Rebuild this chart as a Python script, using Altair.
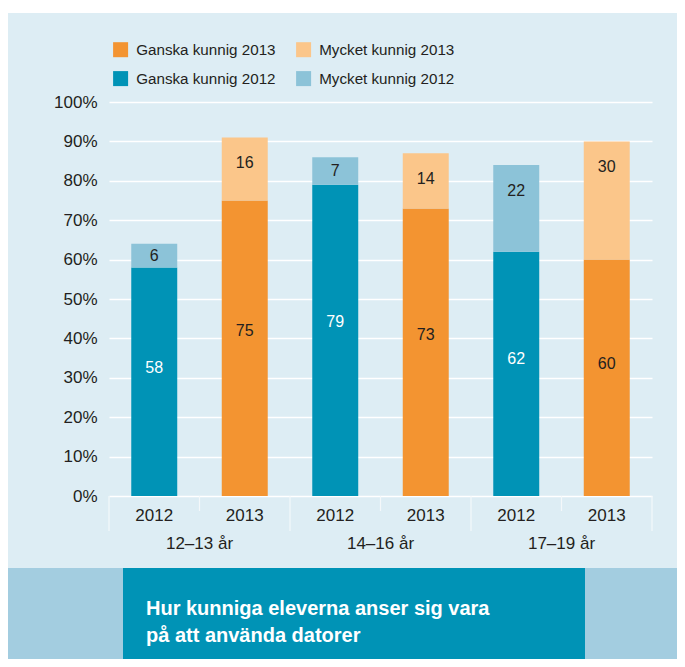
import altair as alt
import pandas as pd

# ---- data ----
groups = ["12–13 år", "14–16 år", "17–19 år"]
years = ["2012", "2013"]
ganska = [58, 75, 79, 73, 62, 60]   # order: group x year
mycket = [6, 16, 7, 14, 22, 30]
y_ticks = [0, 10, 20, 30, 40, 50, 60, 70, 80, 90, 100]
series_order = ["Ganska kunnig 2013", "Mycket kunnig 2013",
                "Ganska kunnig 2012", "Mycket kunnig 2012"]
series_colors = ["#f39431", "#fbc68a", "#0093b6", "#8cc3d8"]
title_lines = ["Hur kunniga eleverna anser sig vara", "på att använda datorer"]

BG = "#ddedf4"
DARK = "#231f20"
FONT = "Liberation Sans"

rows = []
keys = []
i = 0
for g in groups:
    for y in years:
        k = f"{g}|{y}"
        keys.append(k)
        rows.append(dict(key=k, group=g, year=y, kind="Ganska",
                         series=f"Ganska kunnig {y}", value=ganska[i], order=0))
        rows.append(dict(key=k, group=g, year=y, kind="Mycket",
                         series=f"Mycket kunnig {y}", value=mycket[i], order=1))
        i += 1
df = pd.DataFrame(rows)
keydf = pd.DataFrame({"key": keys, "year": [k.split("|")[1] for k in keys],
                      "group": [k.split("|")[0] for k in keys]})

W, H = 543, 394
PR = 25   # right padding
PB = 163  # bottom padding

xscale = alt.Scale(domain=keys, paddingInner=0, paddingOuter=0)
x_axis = alt.Axis(labelExpr="split(datum.label, '|')[1]", domain=False, ticks=False,
                  labelAngle=0, labelFontSize=17, labelFont=FONT, labelColor=DARK,
                  labelPadding=11, title=None, grid=False)
X = alt.X("key:N", sort=keys, scale=xscale, axis=x_axis)

y_scale = alt.Scale(domain=[0, 100], nice=False)
y_axis = alt.Axis(values=y_ticks, labelExpr="datum.value + '%'", grid=True,
                  gridColor="white", gridWidth=1.5, gridOpacity=1,
                  labelOverlap=False, domain=False, ticks=False, labelPadding=12,
                  labelFontSize=17, labelFont=FONT, labelColor=DARK, title=None)

stacked = alt.Chart(df).transform_stack(
    stack="value", as_=["y0", "y1"], groupby=["key"],
    sort=[alt.SortField("order", order="ascending")])

bars = stacked.mark_bar(width=alt.RelativeBandSize(0.508)).encode(
    x=X,
    y=alt.Y("y0:Q", scale=y_scale, axis=y_axis),
    y2="y1:Q",
    color=alt.Color("series:N", scale=alt.Scale(domain=series_order, range=series_colors),
                    legend=alt.Legend(title=None, orient="none", legendX=4, legendY=-60,
                                      direction="horizontal", columns=2, columnPadding=20,
                                      rowPadding=13, padding=0,
                                      symbolType="square", symbolSize=225,
                                      symbolStrokeWidth=0, symbolOpacity=1,
                                      labelFontSize=15.2, labelFont=FONT, labelColor=DARK,
                                      labelOffset=8, labelLimit=400)),
)

labels = stacked.transform_calculate(
    ly="datum.kind == 'Ganska' ? datum.value * 0.56 : max(datum.y0 + datum.value / 2, datum.y1 - 6.5)"
).mark_text(fontSize=16, font=FONT, baseline="middle").encode(
    x=X,
    y=alt.Y("ly:Q", scale=y_scale, axis=y_axis),
    text="value:Q",
    color=alt.condition("datum.series == 'Ganska kunnig 2012'", alt.value("white"), alt.value(DARK)),
)

sep_color = "#f4f8fa"
sep_long = alt.Chart(keydf).transform_filter("datum.year == '2012'").mark_rule(
    color=sep_color, strokeWidth=1.2).encode(
    x=alt.X("key:N", sort=keys, bandPosition=0), y=alt.value(H), y2=alt.value(H + 35))
sep_short = alt.Chart(keydf).transform_filter("datum.year == '2013'").mark_rule(
    color=sep_color, strokeWidth=1.2).encode(
    x=alt.X("key:N", sort=keys, bandPosition=0), y=alt.value(H), y2=alt.value(H + 15))
sep_end = alt.Chart(keydf).transform_filter(f"datum.key == '{keys[-1]}'").mark_rule(
    color=sep_color, strokeWidth=1.2).encode(
    x=alt.X("key:N", sort=keys, bandPosition=1), y=alt.value(H), y2=alt.value(H + 35))

group_labels = alt.Chart(keydf).transform_filter("datum.year == '2013'").mark_text(
    fontSize=17, font=FONT, color=DARK, baseline="alphabetic").encode(
    x=alt.X("key:N", sort=keys, bandPosition=0), y=alt.value(447), text="group:N")

one = pd.DataFrame({"a": [0]})
top_white = alt.Chart(one).mark_rect(color="white").encode(
    x=alt.value(-101), x2=alt.value(W + PR), y=alt.value(-94), y2=alt.value(-89))
strip = alt.Chart(one).mark_rect(color="#a3cde0").encode(
    x=alt.value(-101), x2=alt.value(W + PR), y=alt.value(466), y2=alt.value(H + PB))
box = alt.Chart(one).mark_rect(color="#0093b6").encode(
    x=alt.value(14), x2=alt.value(476), y=alt.value(466), y2=alt.value(H + PB))
title = alt.Chart(one).mark_text(
    align="left", baseline="top", fontSize=20, fontWeight="bold", font=FONT,
    color="white", lineHeight=27).encode(
    x=alt.value(37), y=alt.value(496.5), text=alt.value(title_lines))

chart = alt.layer(
    top_white, strip, box, title, bars, labels, sep_long, sep_short, sep_end, group_labels
).properties(
    width=W, height=H, autosize="none",
    padding={"left": 101, "top": 94, "right": PR, "bottom": PB},
    background=BG,
).configure_view(stroke=None)

chart.save("out.html", embed_options={"renderer": "svg", "actions": False})
